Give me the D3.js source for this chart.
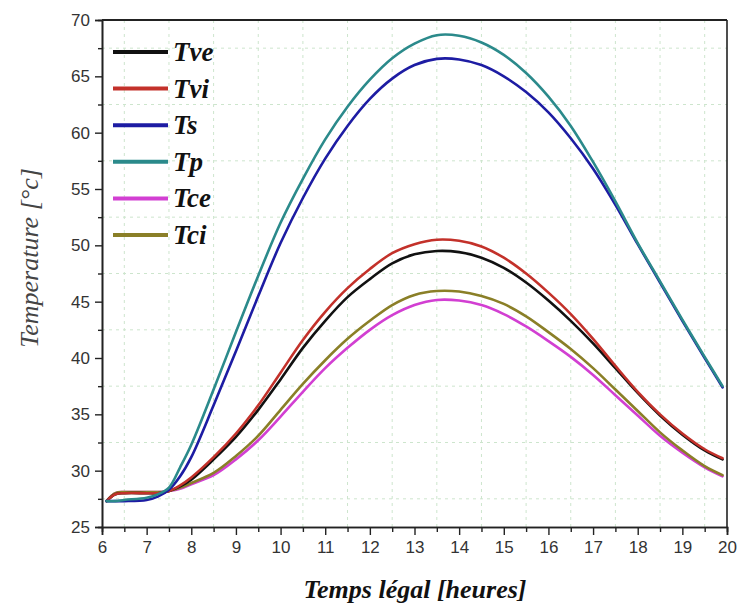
<!DOCTYPE html>
<html>
<head>
<meta charset="utf-8">
<script src="https://cdn.jsdelivr.net/npm/d3@7"></script>
<style>
  html, body { margin: 0; padding: 0; background: #fff; }
  svg { display: block; }
</style>
</head>
<body>
<svg id="chart" width="741" height="615"></svg>
<script>
// ---- data ----
const hours = [6.1, 6.3, 6.5, 7.0, 7.25, 7.5, 7.75, 8.0, 8.5, 9.0, 9.5, 10.0, 10.5, 11.0, 11.5, 12.0, 12.5, 13.0, 13.5, 14.0, 14.5, 15.0, 15.5, 16.0, 16.5, 17.0, 17.5, 18.0, 18.5, 19.0, 19.5, 19.9];
const Tve = [27.3, 27.9, 28.0, 28.0, 28.0, 28.2, 28.6, 29.2, 31.0, 33.0, 35.4, 38.1, 40.9, 43.3, 45.4, 47.0, 48.4, 49.2, 49.5, 49.4, 48.9, 48.0, 46.7, 45.1, 43.3, 41.3, 39.1, 36.9, 34.9, 33.2, 31.8, 31.0];
const Tvi = [27.3, 27.9, 28.0, 28.0, 28.0, 28.2, 28.7, 29.4, 31.2, 33.3, 35.8, 38.7, 41.6, 44.1, 46.2, 47.9, 49.3, 50.1, 50.5, 50.4, 49.9, 48.9, 47.5, 45.8, 43.9, 41.7, 39.3, 37.0, 35.0, 33.3, 31.9, 31.1];
const Ts  = [27.3, 27.3, 27.3, 27.4, 27.7, 28.3, 29.5, 31.2, 35.8, 40.6, 45.5, 50.2, 54.2, 57.7, 60.6, 63.0, 64.8, 66.0, 66.55, 66.5, 66.0, 65.0, 63.6, 61.8, 59.5, 56.8, 53.6, 50.1, 46.7, 43.3, 40.0, 37.4];
const Tp  = [27.3, 27.3, 27.4, 27.6, 27.9, 28.5, 30.3, 32.3, 37.2, 42.3, 47.3, 52.0, 55.9, 59.4, 62.3, 64.7, 66.6, 67.9, 68.65, 68.6, 68.0, 66.9, 65.3, 63.2, 60.6, 57.4, 53.9, 50.2, 46.8, 43.4, 40.1, 37.5];
const Tce = [27.3, 28.0, 28.1, 28.1, 28.1, 28.2, 28.4, 28.8, 29.6, 31.0, 32.7, 34.8, 37.0, 39.1, 40.9, 42.5, 43.8, 44.7, 45.15, 45.1, 44.7, 43.9, 42.8, 41.5, 40.1, 38.5, 36.7, 34.9, 33.1, 31.6, 30.3, 29.5];
const Tci = [27.3, 28.0, 28.1, 28.1, 28.1, 28.2, 28.5, 28.9, 29.8, 31.3, 33.1, 35.4, 37.7, 39.8, 41.7, 43.3, 44.7, 45.6, 45.95, 45.9, 45.5, 44.8, 43.7, 42.3, 40.8, 39.1, 37.2, 35.3, 33.4, 31.8, 30.4, 29.6];
const seriesNames = ["Tve", "Tvi", "Ts", "Tp", "Tce", "Tci"];
const seriesValues = [Tve, Tvi, Ts, Tp, Tce, Tci];
const xTicks = [6, 7, 8, 9, 10, 11, 12, 13, 14, 15, 16, 17, 18, 19, 20];
const yTicks = [25, 30, 35, 40, 45, 50, 55, 60, 65, 70];
const xTitle = "Temps légal [heures]";
const yTitle = "Temperature [°c]";

// ---- styles ----
const colors = ["#111111", "#c3312a", "#1d1ca3", "#2b8a8b", "#d23fd2", "#8a7f27"];
const drawOrder = [4, 5, 0, 1, 2, 3];

const svg = d3.select("#chart");
const L = 102, R = 727, T = 20, B = 527;

const x = d3.scaleLinear().domain([6, 20]).range([L, R]);
const y = d3.scaleLinear().domain([25, 70]).range([B, T]);

// grid at minor positions
const gridX = d3.range(6.5, 20, 1);
const gridY = d3.range(27.5, 70, 5);
const grid = svg.append("g");
grid.selectAll("line.gx").data(gridX).enter().append("line")
  .attr("x1", d => x(d)).attr("x2", d => x(d)).attr("y1", T).attr("y2", B)
  .attr("stroke", "#cde5cd").attr("stroke-width", 1).attr("stroke-dasharray", "3,4");
grid.selectAll("line.gy").data(gridY).enter().append("line")
  .attr("y1", d => y(d)).attr("y2", d => y(d)).attr("x1", L).attr("x2", R)
  .attr("stroke", "#cde5cd").attr("stroke-width", 1).attr("stroke-dasharray", "3,4");

// axes
const xAxis = d3.axisBottom(x).tickValues(xTicks).tickSize(8).tickPadding(6).tickFormat(d3.format("d"));
const xMinor = d3.axisBottom(x).tickValues(gridX).tickSize(5).tickFormat("");
const yAxis = d3.axisLeft(y).tickValues(yTicks).tickSize(7).tickPadding(5).tickFormat(d3.format("d"));
const yMinor = d3.axisLeft(y).tickValues(gridY).tickSize(4).tickFormat("");

function styleAxis(g) {
  g.select(".domain").attr("stroke", "#222").attr("stroke-width", 1.6);
  g.selectAll(".tick line").attr("stroke", "#222").attr("stroke-width", 1.4);
  g.selectAll(".tick text").attr("fill", "#333").attr("font-family", "Liberation Sans, Arial, sans-serif").attr("font-size", 17);
}
svg.append("g").attr("transform", `translate(0,${B})`).call(xMinor).call(styleAxis);
svg.append("g").attr("transform", `translate(0,${B})`).call(xAxis).call(styleAxis);
svg.append("g").attr("transform", `translate(${L},0)`).call(yMinor).call(styleAxis);
svg.append("g").attr("transform", `translate(${L},0)`).call(yAxis).call(styleAxis);

// frame top and right
svg.append("line").attr("x1", L).attr("x2", R).attr("y1", T).attr("y2", T).attr("stroke", "#222").attr("stroke-width", 2);
svg.append("line").attr("x1", R).attr("x2", R).attr("y1", T).attr("y2", B).attr("stroke", "#222").attr("stroke-width", 1.6);

// curves
const line = d3.line().x((d, i) => x(hours[i])).y(d => y(d)).curve(d3.curveCatmullRom.alpha(0.5));
drawOrder.forEach(k => {
  svg.append("path").datum(seriesValues[k])
    .attr("d", line).attr("fill", "none")
    .attr("stroke", colors[k]).attr("stroke-width", 2.6)
    .attr("stroke-linejoin", "round").attr("stroke-linecap", "round");
});

// legend
const leg = svg.append("g");
seriesNames.forEach((name, i) => {
  const cy = 52 + i * 36.6;
  leg.append("line").attr("x1", 113).attr("x2", 168).attr("y1", cy).attr("y2", cy)
    .attr("stroke", colors[i]).attr("stroke-width", 4);
  leg.append("text").attr("x", 173).attr("y", cy + 9)
    .attr("font-family", "Liberation Serif, Times New Roman, serif")
    .attr("font-style", "italic").attr("font-weight", "bold")
    .attr("font-size", 27).attr("fill", "#111").text(name);
});

// titles
svg.append("text").attr("x", 415).attr("y", 598).attr("text-anchor", "middle")
  .attr("font-family", "Liberation Serif, Times New Roman, serif")
  .attr("font-style", "italic").attr("font-weight", "bold")
  .attr("font-size", 26).attr("fill", "#111").text(xTitle);
svg.append("text").attr("transform", "translate(38,258) rotate(-90)").attr("text-anchor", "middle")
  .attr("font-family", "Liberation Serif, Times New Roman, serif")
  .attr("font-style", "italic")
  .attr("font-size", 26).attr("fill", "#444").text(yTitle);
</script>
</body>
</html>
